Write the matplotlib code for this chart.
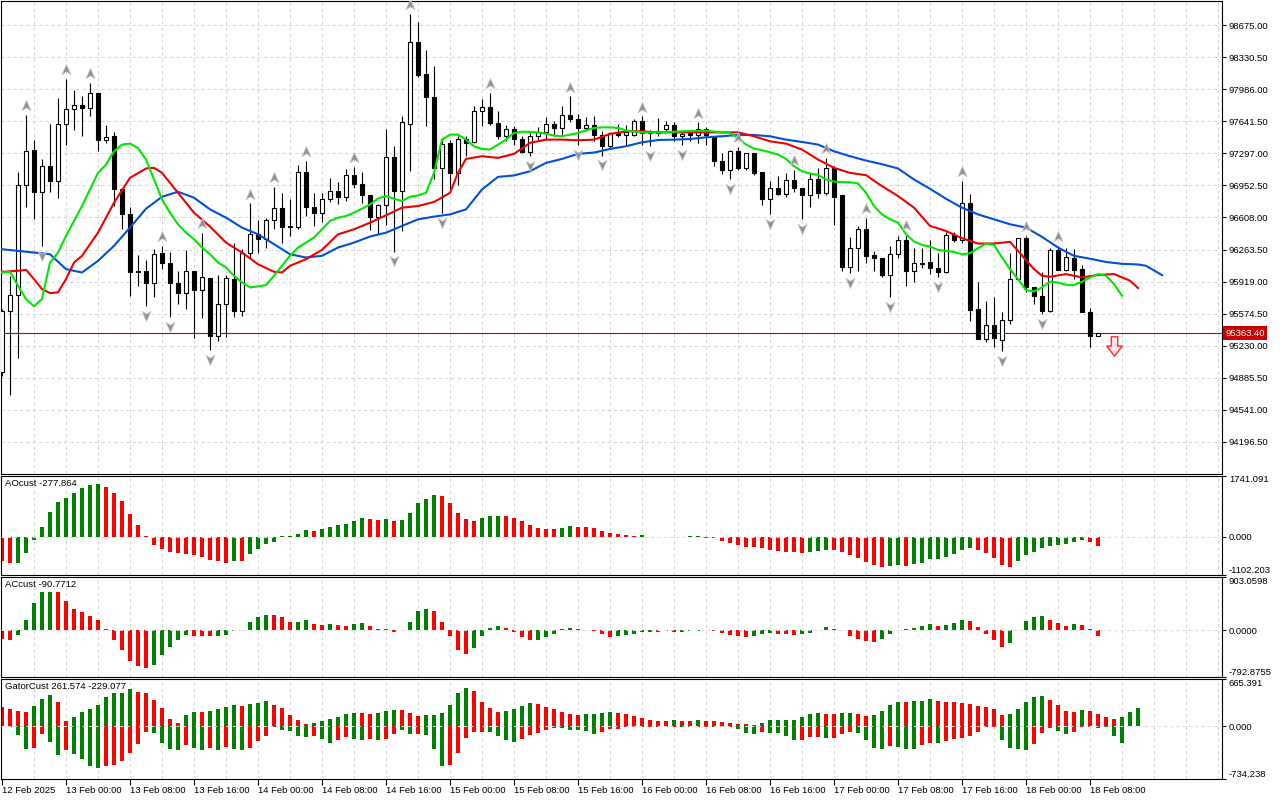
import numpy as np
import matplotlib
matplotlib.use("Agg")
import matplotlib.pyplot as plt
from matplotlib.path import Path

plt.rcParams["font.family"] = ["Liberation Sans", "DejaVu Sans"]

# ---------------- data (BTCUSD H1, index 0 = 12 Feb 16:00) ----------------
opens = [94947, 95600, 95775, 96952, 97337, 96880, 97166, 96998, 97612, 97772,
         97815, 97783, 97943, 97444, 97480, 96916, 96641, 96030, 96035, 95899,
         96224, 96124, 95899, 95792, 96035, 95832, 95960, 95332, 95678, 95946,
         95600, 96231, 96434, 96381, 96577, 96713, 96506, 96506, 97098, 96723,
         96652, 96802, 96891, 96830, 97069, 96969, 96848, 96613, 96741, 97258,
         96891, 97612, 98489, 98150, 97901, 97141, 97408, 97087, 97451, 97419,
         97754, 97794, 97622, 97480, 97558, 97451, 97312, 97480, 97522, 97612,
         97569, 97711, 97665, 97569, 97597, 97490, 97373, 97515, 97497, 97497,
         97647, 97526, 97515, 97558, 97604, 97480, 97515, 97490, 97558, 97480,
         97219, 97123, 97326, 97141, 97301, 97098, 96809, 96927, 96863, 97009,
         96927, 96845, 97023, 96873, 97141, 96845, 96078, 96285, 96481, 96203,
         96178, 95989, 96213, 96363, 96035, 96124, 96131, 96060, 96024, 96417,
         96367, 96766, 95625, 95304, 95454, 95297, 95507, 95946, 96384, 95857,
         95760, 95607, 96256, 96046, 96178, 96053, 95589, 95340]
highs = [95620, 95981, 97094, 97711, 97437, 97237, 97615, 97890, 98097, 97979,
         97908, 98050, 97943, 97604, 97526, 96916, 96723, 96203, 96149, 96267,
         96302, 96242, 96035, 96256, 96035, 96445, 95960, 95989, 95989, 96338,
         96274, 96759, 96577, 96605, 96940, 96866, 96802, 97176, 97219, 96873,
         96873, 97034, 96991, 97130, 97151, 97098, 96848, 96755, 97562, 97380,
         97694, 98792, 98703, 98407, 98236, 97462, 97444, 97480, 97480, 97801,
         97879, 97943, 97754, 97604, 97594, 97480, 97515, 97576, 97686, 97640,
         97801, 97908, 97719, 97683, 97694, 97533, 97522, 97612, 97604, 97665,
         97694, 97551, 97676, 97640, 97633, 97533, 97551, 97629, 97576, 97480,
         97301, 97337, 97362, 97301, 97301, 97098, 96998, 97051, 97087, 97123,
         96927, 97094, 97141, 97248, 97166, 96845, 96402, 96516, 96606, 96249,
         96178, 96302, 96409, 96420, 96285, 96285, 96363, 96231, 96452, 96452,
         97005, 96862, 95910, 95714, 95757, 95589, 96231, 96390, 96410, 95857,
         96017, 96285, 96303, 96285, 96274, 96096, 95633, 95372]
lows = [94900, 94697, 95097, 96723, 96588, 96302, 96880, 96820, 97383, 97551,
        97487, 97694, 97319, 97408, 96730, 96481, 95760, 95867, 95660, 95750,
        96053, 95536, 95678, 95625, 95311, 95525, 95186, 95279, 95321, 95536,
        95553, 96178, 96231, 96285, 96488, 96338, 96409, 96488, 96623, 96516,
        96559, 96773, 96748, 96784, 96927, 96759, 96474, 96434, 96524, 96242,
        96463, 97105, 98122, 97594, 97016, 96659, 96909, 96952, 97266, 97408,
        97587, 97604, 97451, 97426, 97390, 97301, 97266, 97444, 97444, 97480,
        97480, 97629, 97383, 97533, 97426, 97273, 97344, 97473, 97383, 97480,
        97390, 97373, 97480, 97522, 97426, 97383, 97426, 97408, 97390, 97158,
        97076, 97016, 97123, 97116, 97069, 96738, 96641, 96845, 96830, 96880,
        96588, 96723, 96820, 96845, 96524, 96030, 96010, 96035, 96124, 96035,
        95964, 95750, 96178, 95874, 95910, 96060, 96000, 95964, 96010, 96345,
        96338, 95500, 95304, 95268, 95222, 95172, 95464, 95939, 95810, 95679,
        95571, 95589, 96046, 96035, 95946, 95589, 95215, 95335]
closes = [95607, 95775, 96952, 97326, 96880, 97166, 96998, 97612, 97772, 97815,
          97783, 97943, 97437, 97473, 96916, 96641, 96017, 96017, 95899, 96220,
          96124, 95899, 95792, 96035, 95832, 95964, 95332, 95678, 95957, 95600,
          96231, 96434, 96381, 96577, 96713, 96506, 96517, 97098, 96723, 96652,
          96802, 96891, 96830, 97069, 96969, 96848, 96613, 96741, 97258, 96891,
          97633, 98489, 98139, 97897, 97141, 97397, 97087, 97451, 97408, 97747,
          97790, 97622, 97480, 97558, 97451, 97308, 97480, 97522, 97612, 97569,
          97711, 97665, 97569, 97604, 97490, 97373, 97515, 97497, 97522, 97647,
          97515, 97515, 97540, 97604, 97480, 97505, 97490, 97558, 97490, 97212,
          97123, 97326, 97141, 97301, 97087, 96809, 96927, 96863, 97009, 96927,
          96845, 97023, 96873, 97141, 96830, 96078, 96285, 96481, 96195, 96178,
          95989, 96213, 96363, 96035, 96124, 96110, 96060, 96024, 96417, 96367,
          96766, 95618, 95304, 95454, 95315, 95507, 95946, 96384, 95857, 95760,
          95607, 96256, 96046, 96185, 96046, 95589, 95340, 95363.4]
last_price = 95363.40

# Alligator lines (jaw / teeth / lips), sampled along the curves
jaw_idx = [0, 2, 4, 6, 8, 10, 12, 14, 16, 18, 20, 22, 24, 26, 28, 30, 32, 34, 36, 38,
           40, 42, 44, 46, 48, 50, 52, 54, 56, 58, 60, 62, 64, 66, 68, 70, 72, 74, 76, 78,
           80, 82, 84, 86, 88, 90, 92, 94, 96, 98, 100, 102, 104, 106, 108, 110, 112, 114, 116, 118,
           120, 122, 124, 126, 128, 130, 132, 134, 136, 138, 140, 142, 143, 145]
jaw_val = [96267, 96249, 96231, 96213, 96053, 96017, 96142, 96303, 96499, 96702,
           96830, 96884, 96820, 96695, 96606, 96499, 96427, 96321, 96213, 96178,
           96196, 96285, 96338, 96403, 96445, 96517, 96588, 96617, 96641, 96695,
           96909, 97044, 97059, 97105, 97194, 97237, 97291, 97305, 97344, 97373,
           97415, 97440, 97444, 97451, 97469, 97480, 97494, 97494, 97480, 97444,
           97419, 97391, 97319, 97266, 97219, 97180, 97134, 97016, 96916, 96809,
           96713, 96641, 96588, 96535, 96499, 96400, 96285, 96196, 96165, 96130,
           96110, 96103, 96089, 95989]
teeth_idx = [0, 2, 3, 4, 5, 6, 7, 8, 9, 10, 12, 14, 16, 18, 19, 20, 22, 24, 26, 28,
             30, 32, 34, 35, 36, 38, 40, 42, 44, 46, 48, 50, 52, 54, 56, 57, 58, 60, 62, 64,
             66, 68, 70, 72, 74, 76, 78, 80, 82, 84, 86, 88, 90, 92, 94, 96, 98, 100, 102, 104,
             106, 108, 110, 112, 114, 116, 118, 120, 122, 124, 126, 127, 128, 129, 130, 131, 133, 135, 137, 139,
             141, 142]
teeth_val = [96024, 96035, 96046, 95946, 95839, 95796, 95803, 95946, 96124, 96196,
             96445, 96766, 97034, 97134, 97141, 97087, 96873, 96659, 96510, 96338,
             96231, 96106, 96024, 96017, 96089, 96160, 96260, 96427, 96481, 96552,
             96631, 96713, 96731, 96774, 96873, 97087, 97237, 97266, 97248, 97291,
             97409, 97444, 97444, 97437, 97444, 97505, 97533, 97533, 97522, 97522,
             97522, 97522, 97522, 97522, 97480, 97426, 97401, 97337, 97230, 97141,
             97087, 97062, 96945, 96838, 96713, 96517, 96463, 96385, 96328, 96328,
             96346, 96250, 96150, 96053, 95982, 95971, 96000, 95964, 95990, 96000,
             95929, 95850]
lips_idx = list(range(0, 81)) + [82, 84, 86, 88] + list(range(90, 141))
lips_val = [96017, 96024, 95875, 95732, 95654, 95732, 96124, 96231, 96409, 96570,
            96731, 96909, 97087, 97176, 97319, 97391, 97401, 97355, 97230, 97016,
            96802, 96659, 96535, 96445, 96374, 96285, 96213, 96124, 96071, 95982,
            95910, 95857, 95867, 95882, 95982, 96089, 96196, 96285, 96338, 96392,
            96481, 96570, 96606, 96624, 96659, 96702, 96748, 96813, 96838, 96809,
            96784, 96830, 96845, 96873, 97087, 97444, 97498, 97498, 97444, 97373,
            97344, 97337, 97391, 97444, 97515, 97530, 97526, 97522, 97508, 97487,
            97480, 97498, 97515, 97544, 97569, 97576, 97576, 97569, 97544, 97530,
            97522,
            97522, 97530, 97537, 97540,
            97522, 97515, 97462, 97391, 97348, 97330, 97308, 97284, 97237, 97159,
            97105, 97080, 97065, 97016, 96994, 96987, 96987, 96973, 96873, 96731,
            96641, 96588, 96552, 96427, 96349, 96313, 96295, 96260, 96249, 96238,
            96213, 96224, 96278, 96328, 96313, 96178, 96053, 95946, 95828, 95814,
            95857, 95918, 95910, 95885, 95882, 95918, 95964, 96000, 95982, 95893,
            95768]

fractal_up_idx = [3, 8, 11, 20, 25, 31, 34, 38, 44, 51, 61, 71, 80, 87, 92, 99, 103, 108, 113, 120, 128, 132]
fractal_dn_idx = [5, 18, 21, 26, 49, 55, 66, 72, 75, 81, 85, 91, 96, 100, 106, 111, 117, 125, 130]
sell_idx = [139]
sell_price = [95230]

# Awesome oscillator
ao_vals = [-699, -766, -746, -479, -105, 287, 689, 976, 1091, 1235,
           1388, 1464, 1493, 1407, 1235, 1005, 632, 325, 10, -249,
           -364, -431, -459, -488, -536, -593, -660, -689, -746, -689,
           -690, -507, -364, -220, -144, 10, 12, 86, 191, 172,
           230, 287, 325, 354, 431, 517, 488, 487, 490, 459,
           462, 670, 947, 1072, 1187, 1148, 947, 660, 488, 431,
           526, 584, 586, 584, 526, 431, 325, 258, 230, 211,
           239, 297, 287, 268, 239, 172, 96, 86, 38, 29,
           38, -10, -12, -14, -15, -16, 5, 6, -29, -48,
           -115, -172, -230, -287, -290, -316, -383, -402, -431, -433,
           -479, -440, -421, -392, -395, -431, -536, -622, -737, -813,
           -852, -850, -823, -825, -785, -746, -651, -650, -593, -507,
           -392, -335, -392, -479, -622, -823, -852, -708, -536, -450,
           -335, -278, -249, -220, -163, -105, -163, -277.864]
ao_cols = ("rrgggggggg" "gggrrrrrrr" "rrrrrrrrrg" "rggggggggr" "ggggggrrgr"
           "gggggrrrrr" "gggrrrrrrr" "ggrrrrrrrr" "grrrrrggrr" "rrrrrrrrrr"
           "rgggrrrrrr" "rggrgggggg" "ggrrrrrggg" "ggggggrr")

# Accelerator oscillator
ac_vals = [-148, -165, -80, 170, 460, 648, 650, 648, 494, 358,
           307, 239, 170, 17, -165, -329, -523, -608, -642, -591,
           -420, -284, -165, -80, -97, -98, -99, -97, -80, -10,
           5, 136, 222, 256, 255, 222, 136, 138, 170, 102,
           85, 102, 85, 68, 102, 119, 68, 23, 22, -28,
           5, 136, 324, 358, 324, 136, -97, -335, -403, -301,
           -97, 34, 68, 34, -28, -114, -165, -164, -114, -62,
           17, 34, 17, 5, -10, -62, -114, -97, -80, -62,
           -28, -27, -28, -10, -28, -27, -10, -5, 5, -5,
           -45, -80, -97, -114, -97, -62, -45, -62, -63, -80,
           -62, -45, 5, 51, 17, 5, -97, -148, -182, -199,
           -148, -62, 3, 17, 34, 68, 102, 68, 85, 119,
           170, 153, 51, -62, -165, -284, -216, 3, 153, 222,
           239, 170, 119, 68, 102, 85, 17, -90.7712]
ac_cols = ("rrgggggrrr" "rrrrrrrrrg" "ggggrrrggg" "ggggrrrggr" "rgrrggrrrr"
           "ggggrrrrrg" "gggrrrrggg" "ggrrrrrggg" "ggrgrggggr" "rrrrgggrrr"
           "ggggrrrrrr" "gggggggrgg" "grrrrrgggg" "grrrgrrr")

# Gator oscillator (upper = |jaw-teeth|, lower = -|teeth-lips|)
gator_up = [263, 240, 212, 194, 282, 379, 434, 337, 74, 129,
            199, 240, 296, 407, 462, 462, 527, 480, 471, 374,
            249, 102, 51, 157, 194, 194, 212, 240, 268, 296,
            290, 310, 323, 351, 296, 254, 157, 88, 37, 46,
            74, 102, 129, 171, 185, 180, 171, 185, 212, 226,
            224, 185, 143, 152, 155, 180, 291, 471, 541, 499,
            346, 249, 194, 208, 236, 277, 319, 305, 263, 236,
            194, 166, 152, 166, 168, 180, 194, 180, 166, 139,
            111, 83, 80, 78, 83, 80, 69, 83, 69, 67,
            55, 42, 37, 30, 14, 42, 83, 85, 88, 90,
            125, 166, 180, 178, 166, 180, 182, 178, 139, 152,
            208, 291, 346, 344, 348, 360, 388, 360, 346, 333,
            330, 305, 277, 275, 236, 152, 166, 236, 346, 416,
            430, 374, 291, 208, 194, 222, 220, 166, 125, 97,
            125, 194, 261.574]
gator_up_cols = ("rrrrgggrrg" "gggggggrrr" "rrrggrgggg" "rgggrrrrrg" "gggggrrggg"
                 "rrrggggggr" "rrrggggrrr" "rrrggggrrr" "rrrrgrrgrr" "rrrrrggggg"
                 "gggrrggrrg" "gggrgggrrr" "rrrrrrgggg" "grrrrgrrrr" "ggg")
gator_dn = [3, 14, 129, 314, 300, 102, 226, 397, 328, 383,
            462, 550, 587, 550, 548, 490, 370, 254, 74, 92,
            236, 314, 328, 268, 300, 328, 300, 328, 286, 314,
            328, 300, 212, 143, 10, 46, 60, 143, 157, 143,
            185, 240, 199, 157, 185, 186, 185, 199, 185, 102,
            46, 102, 102, 120, 314, 550, 536, 370, 162, 79,
            78, 79, 134, 189, 217, 176, 120, 92, 51, 23,
            25, 51, 52, 65, 106, 79, 37, 35, 9, 5,
            6, 5, 4, 8, 5, 6, 8, 5, 4, 8,
            5, 4, 37, 92, 106, 79, 92, 93, 134, 189,
            188, 148, 147, 162, 160, 106, 79, 92, 189, 300,
            314, 273, 286, 314, 316, 259, 231, 233, 203, 176,
            162, 134, 79, 9, 5, 189, 300, 314, 328, 245,
            92, 23, 65, 106, 79, 9, 5, 18, 14, 134,
            229.077]
gator_dn_cols = ("rrggrrggrg" "gggrrrrrrg" "gggrggrgrg" "grrrrggggr" "ggrrggrgrr"
                 "ggrgggrrrr" "rggggrrrrr" "gggggrrrrr" "grrgrggrrg" "rrgggrgggg"
                 "rrrgrrrggg" "grgggrrgrr" "rrrrrggggr" "rrggrrrggg" "g")

price_ticks = [98675.00, 98330.50, 97986.00, 97641.50, 97297.00, 96952.50, 96608.00,
               96263.50, 95919.00, 95574.50, 95230.00, 94885.50, 94541.00, 94196.50]
time_idx = [0, 8, 16, 24, 32, 40, 48, 56, 64, 72, 80, 88, 96, 104, 112, 120, 128, 136]
time_labels = ["12 Feb 2025", "13 Feb 00:00", "13 Feb 08:00", "13 Feb 16:00",
               "14 Feb 00:00", "14 Feb 08:00", "14 Feb 16:00", "15 Feb 00:00",
               "15 Feb 08:00", "15 Feb 16:00", "16 Feb 00:00", "16 Feb 08:00",
               "16 Feb 16:00", "17 Feb 00:00", "17 Feb 08:00", "17 Feb 16:00",
               "18 Feb 00:00", "18 Feb 08:00"]

# ---------------- style ----------------
W, H = 1280, 800
XMIN, XMAX = -0.125, 152.5
FS = 6.8
GRID = "#d6d6d6"
COL = {"g": "#008000", "r": "#ff0000"}

fig = plt.figure(figsize=(12.8, 8), dpi=100, facecolor="white")


def panel(top, bottom):
    a = fig.add_axes([1 / W, 1 - bottom / H, 1221 / W, (bottom - top) / H])
    a.set_facecolor("white")
    a.set_xlim(XMIN, XMAX)
    for s in a.spines.values():
        s.set_linewidth(0.8)
        s.set_color("black")
    a.set_xticks([])
    for gx in range(4, 153, 4):
        a.axvline(gx, color=GRID, lw=0.75, linestyle=(0, (3, 3)), zorder=0)
    a.yaxis.tick_right()
    a.tick_params(axis="y", direction="out", length=3, width=0.8, pad=2,
                  labelsize=FS, colors="black")
    return a


def sub_axis(a, lo, hi, labels):
    a.set_ylim(lo, hi)
    a.set_yticks([lo, 0, hi])
    a.set_yticklabels(labels)
    tl = a.get_yticklabels()
    tl[0].set_va("bottom")
    tl[2].set_va("top")
    a.axhline(0, color="#dcdcdc", lw=0.75, linestyle=(0, (3, 3)), zorder=3)


def title(a, text):
    a.annotate(text, xy=(0, 1), xycoords="axes fraction", xytext=(4, -7.5),
               textcoords="offset pixels", ha="left", va="center", fontsize=FS)


up_arrow = Path([(0, 1), (0.75, -0.7), (0, -0.2), (-0.75, -0.7), (0, 1)],
                [Path.MOVETO, Path.LINETO, Path.LINETO, Path.LINETO, Path.CLOSEPOLY])
dn_arrow = Path([(0, -1), (0.75, 0.7), (0, 0.2), (-0.75, 0.7), (0, -1)],
                [Path.MOVETO, Path.LINETO, Path.LINETO, Path.LINETO, Path.CLOSEPOLY])
sell_arrow = Path([(-0.33, 1), (0.33, 1), (0.33, 0.05), (0.8, 0.05), (0, -1),
                   (-0.8, 0.05), (-0.33, 0.05), (-0.33, 1)],
                  [Path.MOVETO] + [Path.LINETO] * 6 + [Path.CLOSEPOLY])

# ---------------- main price panel ----------------
ax = panel(1, 473.5)
ax.set_ylim(93858, 98933)
for p in price_ticks:
    ax.axhline(p, color=GRID, lw=0.75, linestyle=(0, (3, 3)), zorder=0)
ax.set_yticks(price_ticks)
ax.set_yticklabels([f"{p:.2f}" for p in price_ticks])

o, h, l, c = (np.array(v, dtype=float) for v in (opens, highs, lows, closes))
x = np.arange(len(c))
bull = c >= o
ax.vlines(x, l, h, color="black", lw=0.8, zorder=3)
ax.bar(x, np.maximum(np.abs(c - o), 6), bottom=np.minimum(o, c), width=0.6,
       color=np.where(bull, "white", "black"), edgecolor="black", linewidth=0.8, zorder=4)

ax.axhline(last_price, color="#c00000", lw=0.8, zorder=2)

ax.plot(jaw_idx, jaw_val, color="#0050d8", lw=1.5, zorder=5)
ax.plot(teeth_idx, teeth_val, color="#f00000", lw=1.5, zorder=5)
ax.plot(lips_idx, lips_val, color="#00e600", lw=1.5, zorder=5)

fu = np.array(fractal_up_idx)
fd = np.array(fractal_dn_idx)
ax.plot(fu, h[fu] + 95, linestyle="none", marker=up_arrow, ms=8.5,
        mfc="#8e8e8e", mec="#c4c4c4", mew=0.6, zorder=6)
ax.plot(fd, l[fd] - 95, linestyle="none", marker=dn_arrow, ms=8.5,
        mfc="#8e8e8e", mec="#c4c4c4", mew=0.6, zorder=6)
ax.plot(sell_idx, sell_price, linestyle="none", marker=sell_arrow, ms=14,
        mfc="#ffe4e8", mec="#ff2a2a", mew=1.0, zorder=6)

ax.annotate(f"{last_price:.2f}", xy=(1, last_price), xycoords=("axes fraction", "data"),
            xytext=(3, 0), textcoords="offset pixels", ha="left", va="center",
            fontsize=FS, color="white", annotation_clip=False, zorder=10,
            bbox=dict(boxstyle="square,pad=0.25", fc="#c80000", ec="none"))

# ---------------- AO ----------------
ax_ao = panel(475.5, 575.3)
sub_axis(ax_ao, -1102.203, 1741.091, ["-1102.203", "0.000", "1741.091"])
ax_ao.bar(np.arange(len(ao_vals)), ao_vals, width=0.55,
          color=[COL[k] for k in ao_cols], zorder=2)
title(ax_ao, "AOcust -277.864")

# ---------------- AC ----------------
ax_ac = panel(577.3, 676.7)
sub_axis(ax_ac, -792.8755, 903.0598, ["-792.8755", "0.0000", "903.0598"])
ax_ac.bar(np.arange(len(ac_vals)), ac_vals, width=0.55,
          color=[COL[k] for k in ac_cols], zorder=2)
title(ax_ac, "ACcust -90.7712")

# ---------------- Gator ----------------
ax_gt = panel(678.7, 778.7)
sub_axis(ax_gt, -734.238, 665.391, ["-734.238", "0.000", "665.391"])
ax_gt.bar(np.arange(len(gator_up)), gator_up, width=0.55,
          color=[COL[k] for k in gator_up_cols], zorder=2)
ax_gt.bar(np.arange(len(gator_dn)), -np.array(gator_dn), width=0.55,
          color=[COL[k] for k in gator_dn_cols], zorder=2)
title(ax_gt, "GatorCust 261.574 -229.077")

ax_gt.set_xticks(time_idx)
ax_gt.set_xticklabels(time_labels, ha="left")
ax_gt.set_xlim(XMIN, XMAX)
ax_gt.tick_params(axis="x", direction="out", length=4, width=0.8, pad=1.5,
                  labelsize=FS, colors="black")

fig.savefig("out.png", dpi=100, facecolor="white")
